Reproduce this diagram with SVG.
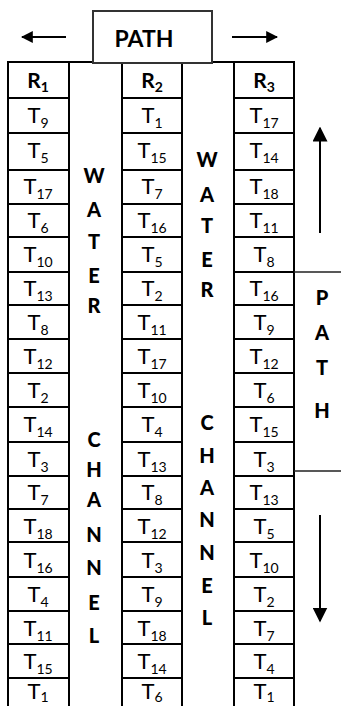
<svg xmlns="http://www.w3.org/2000/svg" width="341" height="706" viewBox="0 0 341 706">
<style>
.ln{stroke:#000;stroke-width:2;fill:none}
.thin{stroke:#222;stroke-width:1.5;fill:none}
.t{font-family:Lato,"Open Sans","Liberation Sans",sans-serif;font-size:22px;fill:#000;text-anchor:middle}
.s{font-size:14px}
.b{font-family:Lato,"Open Sans","Liberation Sans",sans-serif;font-weight:900;font-size:20px;fill:#000;text-anchor:middle}
.arr{stroke:#000;stroke-width:2;fill:none}
</style>
<defs>
<marker id="ah" viewBox="0 0 10 10" refX="9" refY="5" markerWidth="12" markerHeight="12" markerUnits="userSpaceOnUse" orient="auto">
<path d="M0,0 L10,5 L0,10 z" fill="#000"/>
</marker>
<marker id="ah2" viewBox="0 0 10 10" refX="9" refY="5" markerWidth="15" markerHeight="15" markerUnits="userSpaceOnUse" orient="auto">
<path d="M0,0 L10,5 L0,10 z" fill="#000"/>
</marker>
</defs>
<rect width="341" height="706" fill="#fff"/>
<g id="connectors">
<line class="arr" x1="66" y1="37" x2="22" y2="37" marker-end="url(#ah)"/>
<line class="arr" x1="232" y1="37" x2="277" y2="37" marker-end="url(#ah)"/>
<line class="arr" x1="320" y1="233" x2="320" y2="128" marker-end="url(#ah2)"/>
<line class="arr" x1="320" y1="515" x2="320" y2="621" marker-end="url(#ah2)"/>
</g>
<g id="grid">
<line class="ln" x1="7" y1="62" x2="295" y2="62"/>
<path class="ln" d="M8,62V706M69,62V706M122,62V706M182,62V706M234,62V706M294,62V706"/>
<path class="ln" d="M8,98H69M122,98H182M234,98H294
M8,133H69M122,133H182M234,133H294
M8,170H69M122,170H182M234,170H294
M8,204H69M122,204H182M234,204H294
M8,237H69M122,237H182M234,237H294
M8,272H69M122,272H182M234,272H294
M8,305H69M122,305H182M234,305H294
M8,339H69M122,339H182M234,339H294
M8,373H69M122,373H182M234,373H294
M8,407H69M122,407H182M234,407H294
M8,442H69M122,442H182M234,442H294
M8,476H69M122,476H182M234,476H294
M8,509H69M122,509H182M234,509H294
M8,542H69M122,542H182M234,542H294
M8,577H69M122,577H182M234,577H294
M8,611H69M122,611H182M234,611H294
M8,644H69M122,644H182M234,644H294
M8,678H69M122,678H182M234,678H294"/>
</g>
<g id="path-top">
<rect x="93" y="11" width="119" height="52" fill="#fff" stroke="#333" stroke-width="2"/>
<text class="b" x="144" y="47" style="font-size:23px;font-weight:bold">PATH</text>
</g>
<g id="path-right">
<path class="thin" d="M294,272H341M294,471H341"/>
<text class="b" x="322" y="305">P</text>
<text class="b" x="322" y="340">A</text>
<text class="b" x="322" y="375">T</text>
<text class="b" x="322" y="418">H</text>
</g>
<g id="water-channel-1">
<text class="b" x="94" y="183">W</text>
<text class="b" x="94" y="217">A</text>
<text class="b" x="94" y="249">T</text>
<text class="b" x="94" y="283">E</text>
<text class="b" x="94" y="313">R</text>
<text class="b" x="94" y="447">C</text>
<text class="b" x="94" y="477">H</text>
<text class="b" x="94" y="507">A</text>
<text class="b" x="94" y="542">N</text>
<text class="b" x="94" y="575">N</text>
<text class="b" x="94" y="610">E</text>
<text class="b" x="94" y="643">L</text>
</g>
<g id="water-channel-2">
<text class="b" x="207" y="167">W</text>
<text class="b" x="207" y="202">A</text>
<text class="b" x="207" y="233">T</text>
<text class="b" x="207" y="267">E</text>
<text class="b" x="207" y="297">R</text>
<text class="b" x="207" y="430">C</text>
<text class="b" x="207" y="463">H</text>
<text class="b" x="207" y="495">A</text>
<text class="b" x="207" y="527">N</text>
<text class="b" x="207" y="560">N</text>
<text class="b" x="207" y="593">E</text>
<text class="b" x="207" y="625">L</text>
</g>
<g id="row-1">
<text class="b" x="38" y="88" style="font-size:21px;font-weight:bold">R<tspan class="s" dy="4">1</tspan></text>
<text class="t" x="38" y="123">T<tspan class="s" dy="5">9</tspan></text>
<text class="t" x="38" y="158">T<tspan class="s" dy="5">5</tspan></text>
<text class="t" x="38" y="194">T<tspan class="s" dy="5">17</tspan></text>
<text class="t" x="38" y="228">T<tspan class="s" dy="5">6</tspan></text>
<text class="t" x="38" y="262">T<tspan class="s" dy="5">10</tspan></text>
<text class="t" x="38" y="296">T<tspan class="s" dy="5">13</tspan></text>
<text class="t" x="38" y="330">T<tspan class="s" dy="5">8</tspan></text>
<text class="t" x="38" y="364">T<tspan class="s" dy="5">12</tspan></text>
<text class="t" x="38" y="398">T<tspan class="s" dy="5">2</tspan></text>
<text class="t" x="38" y="432">T<tspan class="s" dy="5">14</tspan></text>
<text class="t" x="38" y="467">T<tspan class="s" dy="5">3</tspan></text>
<text class="t" x="38" y="500">T<tspan class="s" dy="5">7</tspan></text>
<text class="t" x="38" y="534">T<tspan class="s" dy="5">18</tspan></text>
<text class="t" x="38" y="568">T<tspan class="s" dy="5">16</tspan></text>
<text class="t" x="38" y="602">T<tspan class="s" dy="5">4</tspan></text>
<text class="t" x="38" y="636">T<tspan class="s" dy="5">11</tspan></text>
<text class="t" x="38" y="669">T<tspan class="s" dy="5">15</tspan></text>
<text class="t" x="38" y="699">T<tspan class="s" dy="3">1</tspan></text>
</g>
<g id="row-2">
<text class="b" x="152" y="88" style="font-size:21px;font-weight:bold">R<tspan class="s" dy="4">2</tspan></text>
<text class="t" x="152" y="123">T<tspan class="s" dy="5">1</tspan></text>
<text class="t" x="152" y="158">T<tspan class="s" dy="5">15</tspan></text>
<text class="t" x="152" y="194">T<tspan class="s" dy="5">7</tspan></text>
<text class="t" x="152" y="228">T<tspan class="s" dy="5">16</tspan></text>
<text class="t" x="152" y="262">T<tspan class="s" dy="5">5</tspan></text>
<text class="t" x="152" y="296">T<tspan class="s" dy="5">2</tspan></text>
<text class="t" x="152" y="330">T<tspan class="s" dy="5">11</tspan></text>
<text class="t" x="152" y="364">T<tspan class="s" dy="5">17</tspan></text>
<text class="t" x="152" y="398">T<tspan class="s" dy="5">10</tspan></text>
<text class="t" x="152" y="432">T<tspan class="s" dy="5">4</tspan></text>
<text class="t" x="152" y="467">T<tspan class="s" dy="5">13</tspan></text>
<text class="t" x="152" y="500">T<tspan class="s" dy="5">8</tspan></text>
<text class="t" x="152" y="534">T<tspan class="s" dy="5">12</tspan></text>
<text class="t" x="152" y="568">T<tspan class="s" dy="5">3</tspan></text>
<text class="t" x="152" y="602">T<tspan class="s" dy="5">9</tspan></text>
<text class="t" x="152" y="636">T<tspan class="s" dy="5">18</tspan></text>
<text class="t" x="152" y="669">T<tspan class="s" dy="5">14</tspan></text>
<text class="t" x="152" y="699">T<tspan class="s" dy="3">6</tspan></text>
</g>
<g id="row-3">
<text class="b" x="264" y="88" style="font-size:21px;font-weight:bold">R<tspan class="s" dy="4">3</tspan></text>
<text class="t" x="264" y="123">T<tspan class="s" dy="5">17</tspan></text>
<text class="t" x="264" y="158">T<tspan class="s" dy="5">14</tspan></text>
<text class="t" x="264" y="194">T<tspan class="s" dy="5">18</tspan></text>
<text class="t" x="264" y="228">T<tspan class="s" dy="5">11</tspan></text>
<text class="t" x="264" y="262">T<tspan class="s" dy="5">8</tspan></text>
<text class="t" x="264" y="296">T<tspan class="s" dy="5">16</tspan></text>
<text class="t" x="264" y="330">T<tspan class="s" dy="5">9</tspan></text>
<text class="t" x="264" y="364">T<tspan class="s" dy="5">12</tspan></text>
<text class="t" x="264" y="398">T<tspan class="s" dy="5">6</tspan></text>
<text class="t" x="264" y="432">T<tspan class="s" dy="5">15</tspan></text>
<text class="t" x="264" y="467">T<tspan class="s" dy="5">3</tspan></text>
<text class="t" x="264" y="500">T<tspan class="s" dy="5">13</tspan></text>
<text class="t" x="264" y="534">T<tspan class="s" dy="5">5</tspan></text>
<text class="t" x="264" y="568">T<tspan class="s" dy="5">10</tspan></text>
<text class="t" x="264" y="602">T<tspan class="s" dy="5">2</tspan></text>
<text class="t" x="264" y="636">T<tspan class="s" dy="5">7</tspan></text>
<text class="t" x="264" y="669">T<tspan class="s" dy="5">4</tspan></text>
<text class="t" x="264" y="699">T<tspan class="s" dy="3">1</tspan></text>
</g>
</svg>
